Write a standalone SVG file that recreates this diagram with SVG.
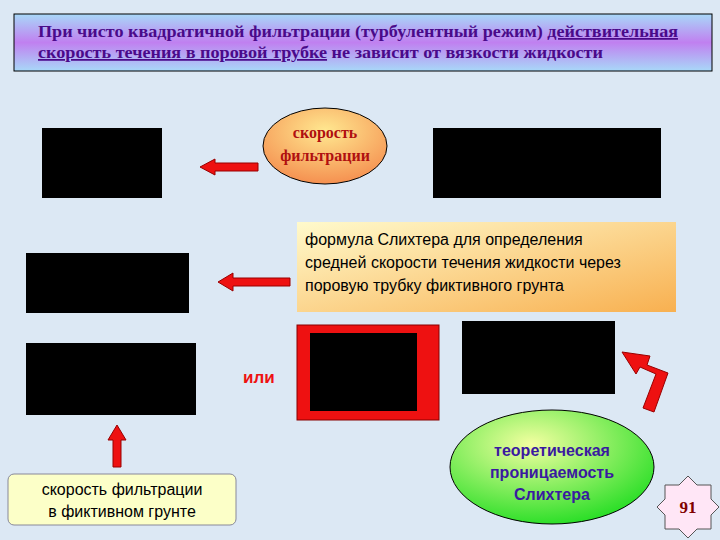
<svg xmlns="http://www.w3.org/2000/svg" width="720" height="540" viewBox="0 0 720 540">
<style>
.blk{fill:#000}
.tt{font-family:"Liberation Serif",serif;font-weight:bold;font-size:17.5px;fill:#4a0a8a}
.sans{font-family:"Liberation Sans",sans-serif;font-size:16px}
.arr{fill:#ee1111;stroke:#990000;stroke-width:1}
</style>
<defs>
<linearGradient id="tg" x1="0" y1="0" x2="0" y2="1"><stop offset="0" stop-color="#a8d8f8"/><stop offset="0.5" stop-color="#c080f0"/><stop offset="1" stop-color="#a8d8f8"/></linearGradient>
<radialGradient id="og" cx="0.5" cy="0.3" r="0.7"><stop offset="0" stop-color="#ffe890"/><stop offset="1" stop-color="#f59050"/></radialGradient>
<linearGradient id="fg" x1="0" y1="0" x2="1" y2="1"><stop offset="0" stop-color="#fffacc"/><stop offset="1" stop-color="#f8b050"/></linearGradient>
<radialGradient id="gg" cx="0.4" cy="0.3" r="0.75"><stop offset="0" stop-color="#f2ffa0"/><stop offset="1" stop-color="#22dd22"/></radialGradient>
</defs>
<rect width="720" height="540" fill="#dce8f4"/>
<g id="title">
<rect x="14" y="14" width="698" height="57" fill="url(#tg)" stroke="#000"/>
<text class="tt" x="38" y="37" textLength="640" lengthAdjust="spacingAndGlyphs">При чисто квадратичной фильтрации (турбулентный режим) <tspan text-decoration="underline">действительная</tspan></text>
<text class="tt" x="38" y="58" textLength="565" lengthAdjust="spacingAndGlyphs"><tspan text-decoration="underline">скорость течения в поровой трубке</tspan> не зависит от вязкости жидкости</text>
</g>
<g id="b1"><rect class="blk" x="42" y="128" width="120" height="70"/></g>
<g id="b2"><rect class="blk" x="433" y="128" width="228" height="70"/></g>
<g id="b3"><rect class="blk" x="26" y="253" width="163" height="60"/></g>
<g id="b4"><rect class="blk" x="26" y="343" width="170" height="72"/></g>
<g id="b5"><rect x="297" y="325" width="142" height="95" fill="#ee1111" stroke="#800"/><rect class="blk" x="310" y="333" width="107" height="78"/></g>
<g id="b6"><rect class="blk" x="462" y="321" width="153" height="73"/></g>
<g id="vel">
<ellipse cx="325" cy="146" rx="62" ry="38" fill="url(#og)" stroke="#000"/>
<text x="325" y="138" text-anchor="middle" font-family="Liberation Serif,serif" font-weight="bold" font-size="16" fill="#b01010">скорость</text>
<text x="325" y="161" text-anchor="middle" font-family="Liberation Serif,serif" font-weight="bold" font-size="16" fill="#b01010">фильтрации</text>
</g>
<g id="formula">
<rect x="297" y="222" width="379" height="90" fill="url(#fg)"/>
<text class="sans" x="305" y="245">формула Слихтера для определения</text>
<text class="sans" x="305" y="268">средней скорости течения жидкости через</text>
<text class="sans" x="305" y="291">поровую трубку фиктивного грунта</text>
</g>
<g id="ili"><text x="243" y="383" font-family="Liberation Sans,sans-serif" font-weight="bold" font-size="17" fill="#ee1111">или</text></g>
<g id="fict">
<rect x="8" y="474" width="228" height="51" rx="6" fill="#fcffc8" stroke="#889"/>
<text class="sans" x="122" y="495" text-anchor="middle" font-size="15">скорость фильтрации</text>
<text class="sans" x="122" y="517" text-anchor="middle" font-size="15">в фиктивном грунте</text>
</g>
<g id="theo">
<ellipse cx="552" cy="467" rx="102" ry="57" fill="url(#gg)" stroke="#000"/>
<text class="sans" x="552" y="456" text-anchor="middle" font-weight="bold" fill="#3a1aa0">теоретическая</text>
<text class="sans" x="552" y="478" text-anchor="middle" font-weight="bold" fill="#3a1aa0">проницаемость</text>
<text class="sans" x="552" y="500" text-anchor="middle" font-weight="bold" fill="#3a1aa0">Слихтера</text>
</g>
<g id="badge">
<polygon points="688,476 697,485 711,485 711,499 719,507 711,515 711,529 697,529 688,538 679,529 665,529 665,515 657,507 665,499 665,485 679,485" fill="#ffe6f6" stroke="#555"/>
<text x="688" y="513" text-anchor="middle" font-family="Liberation Serif,serif" font-weight="bold" font-size="17" fill="#800000">91</text>
</g>
<g id="connectors">
<polygon class="arr" points="258,163 215,163 215,159 200,167 215,175 215,171 258,171"/>
<polygon class="arr" points="290,278 233,278 233,273 218,282 233,291 233,286 290,286"/>
<polygon class="arr" points="113,467 113,440 108,440 117,425 126,440 121,440 121,467"/>
<polygon class="arr" points="654,412 668,373 647,365 650,356 622,352 636,374 640,367 656,374 643,408"/>
</g>
</svg>
